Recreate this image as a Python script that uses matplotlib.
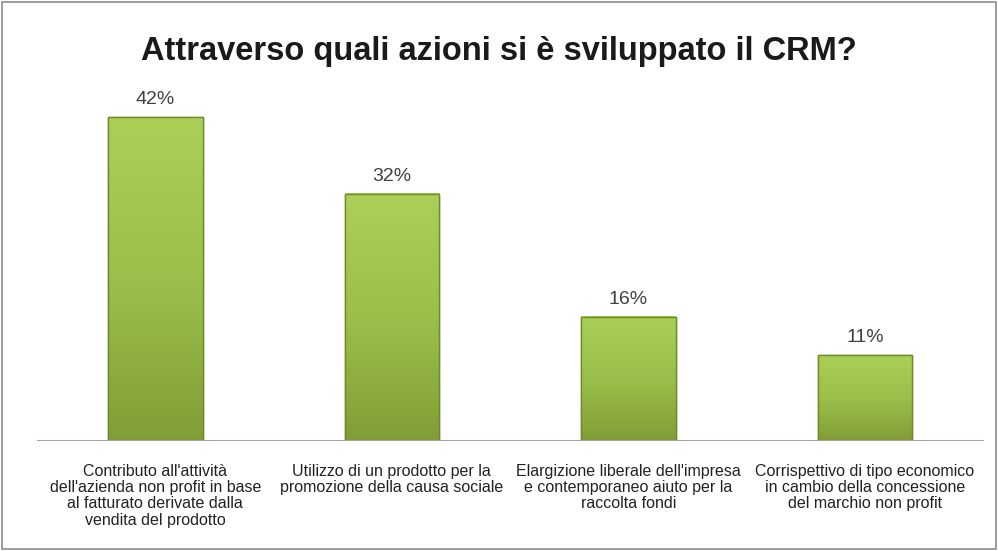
import numpy as np
import matplotlib
matplotlib.use("Agg")
import matplotlib.pyplot as plt
from matplotlib.colors import LinearSegmentedColormap

plt.rcParams['font.family'] = ['Liberation Sans', 'DejaVu Sans']

title = "Attraverso quali azioni si è sviluppato il CRM?"
categories = [
    "Contributo all'attività\ndell'azienda non profit in base\nal fatturato derivate dalla\nvendita del prodotto",
    "Utilizzo di un prodotto per la\npromozione della causa sociale",
    "Elargizione liberale dell'impresa\ne contemporaneo aiuto per la\nraccolta fondi",
    "Corrispettivo di tipo economico\nin cambio della concessione\ndel marchio non profit",
]
values = [42, 32, 16, 11]
labels = ["42%", "32%", "16%", "11%"]

fig = plt.figure(figsize=(9.98, 5.51), dpi=100)
ax = fig.add_axes([0.0371, 0.2015, 0.948, 0.653])

x = np.arange(len(values))
w = 0.40
bars = ax.bar(x, values, width=w, color="#94b843", edgecolor="#6e8a2a", linewidth=1.0, zorder=2)

# vertical gradient inside each bar
cmap = LinearSegmentedColormap.from_list("g", ["#819e37", "#9bc04a", "#aad058"])
grad = np.linspace(0, 1, 256).reshape(-1, 1)
for b in bars:
    x0 = b.get_x()
    h = b.get_height()
    ax.imshow(grad, cmap=cmap, origin="lower", aspect="auto",
              extent=(x0, x0 + b.get_width(), 0, h), zorder=3)
    ax.bar(b.get_x() + b.get_width() / 2, h, width=b.get_width(), fill=False,
           edgecolor="#6e8a2a", linewidth=1.0, zorder=4)

for xi, v, lab in zip(x, values, labels):
    ax.text(xi, v + 1.2, lab, ha="center", va="bottom", fontsize=14, color="#404040")

ax.set_xlim(-0.5, 3.5)
ax.set_ylim(0, 46.8)
ax.set_xticks(x)
ax.set_xticklabels(categories, fontsize=11.5, color="#222222", linespacing=1.12)
ax.tick_params(axis="x", length=0, pad=17)
ax.set_yticks([])
for s in ["top", "right", "left"]:
    ax.spines[s].set_visible(False)
ax.spines["bottom"].set_color("#a6a6a6")

fig.text(0.5, 0.906, title, ha="center", va="center", fontsize=23.5,
         fontweight="bold", color="#1a1a1a")

# outer border
fig.patches.append(plt.Rectangle((0.002, 0.003), 0.996, 0.994, transform=fig.transFigure,
                                 fill=False, edgecolor="#8c8c8c", linewidth=1.2))

fig.savefig("out.png", dpi=100)
